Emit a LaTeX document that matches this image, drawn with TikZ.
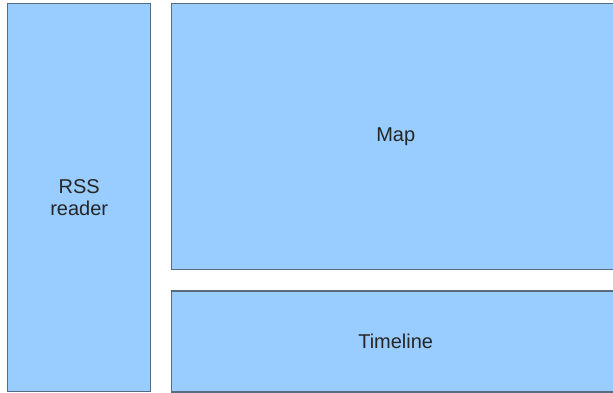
\documentclass[tikz,border=0pt]{standalone}
\usepackage{fontspec}
\setmainfont{Liberation Sans}
\usetikzlibrary{positioning}

\definecolor{panelfill}{RGB}{153,204,255}
\definecolor{paneledge}{RGB}{88,108,128}

\begin{document}
\begin{tikzpicture}
[
	x=1pt,y=-1pt,
	panel/.style={draw=paneledge,fill=panelfill,line width=1.4pt,inner sep=0pt,
		anchor=north west,align=center,text=black!85,
		font=\fontsize{20}{22}\selectfont},
]

	\useasboundingbox (0,0) rectangle (613,393);

	% panels
	\node[panel,minimum width=143pt,minimum height=388pt] (rss) at (7,3) {RSS\\reader};
	\node[panel,minimum width=448pt,minimum height=266pt] (map) at (171,3) {Map};
	\node[panel,minimum width=448pt,minimum height=101pt,below=20pt of map.south west,anchor=north west] (timeline) {Timeline};

\end{tikzpicture}
\end{document}
